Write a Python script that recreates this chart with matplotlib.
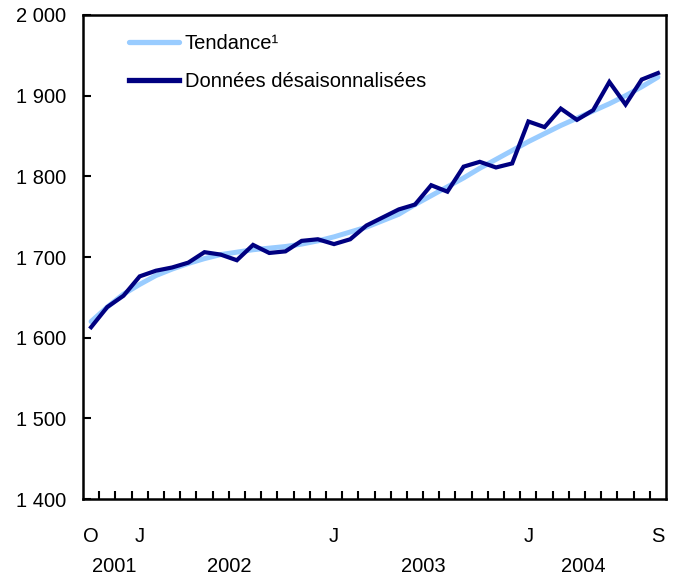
import numpy as np
import matplotlib
matplotlib.use("Agg")
import matplotlib.pyplot as plt
import matplotlib.transforms as mtransforms

plt.rcParams['font.family'] = ['Liberation Sans', 'DejaVu Sans']

# monthly data, Oct 2001 to Sep 2004
seasonal = [1613, 1638, 1652, 1676, 1683, 1687, 1693, 1706, 1703, 1696,
            1715, 1705, 1707, 1720, 1722, 1716, 1722, 1739, 1749, 1759,
            1765, 1789, 1781, 1812, 1818, 1811, 1816, 1868, 1861, 1884,
            1870, 1882, 1917, 1889, 1920, 1928]
trend = [1620, 1638, 1654, 1666, 1677, 1685, 1692, 1698, 1703, 1706,
         1709, 1711, 1713, 1716, 1720, 1725, 1731, 1737, 1745, 1753,
         1765, 1776, 1787, 1798, 1810, 1821, 1832, 1843, 1853, 1863,
         1872, 1881, 1890, 1900, 1911, 1923]
month_labels = {0: "O", 3: "J", 15: "J", 27: "J", 35: "S"}
years = ["2001", "2002", "2003", "2004"]
year_pos = [1.4, 8.5, 20.5, 30.4]
yticks = [1400, 1500, 1600, 1700, 1800, 1900, 2000]

fs = 14.5
x = np.arange(len(seasonal))

fig = plt.figure(figsize=(6.77, 5.81), dpi=100)
ax = fig.add_axes([0.1226, 0.1411, 0.8612, 0.8331])

ax.plot(x, trend, color='#99ccff', lw=3.6, label='Tendance\u00b9', solid_capstyle='round')
ax.plot(x, seasonal, color='#000080', lw=3.0, label='Données désaisonnalisées',
        solid_joinstyle='miter')

ax.set_xlim(-0.5, len(seasonal) - 0.5)
ax.set_ylim(1400, 2000)

ax.set_yticks(yticks)
ax.set_yticklabels([f"{v:,}".replace(",", " ") for v in yticks])
ax.tick_params(axis='y', direction='in', length=5.5, width=1.5, pad=12, labelsize=fs)

ax.set_xticks(list(month_labels.keys()))
ax.set_xticklabels(list(month_labels.values()))
ax.set_xticks(np.arange(0.5, len(seasonal) - 0.5, 1), minor=True)
ax.tick_params(axis='x', which='major', length=0, pad=20, labelsize=fs)
ax.tick_params(axis='x', which='minor', direction='in', length=5.5, width=1.5)

for s in ax.spines.values():
    s.set_linewidth(1.8)

trans = mtransforms.blended_transform_factory(ax.transData, fig.transFigure)
for yr, p in zip(years, year_pos):
    ax.text(p, 1 - 567 / 581, yr, transform=trans, ha='center', va='center', fontsize=fs)

leg = ax.legend(loc='upper left', bbox_to_anchor=(0.047, 0.998), frameon=False,
                fontsize=fs, handlelength=2.5, handletextpad=0.3, labelspacing=0.95)
for h in leg.get_lines():
    h.set_linewidth(3.8)

fig.savefig('out.png', dpi=100)
